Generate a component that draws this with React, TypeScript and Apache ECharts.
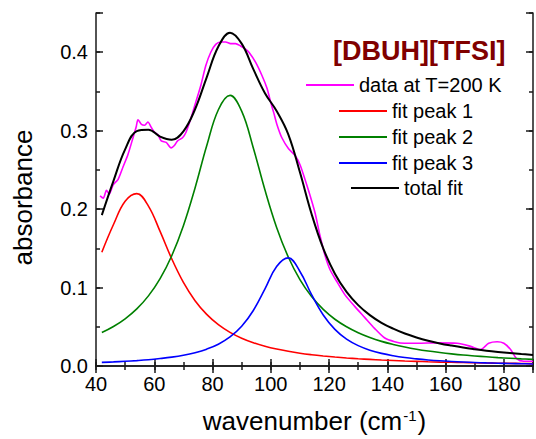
import { useEffect, useRef } from "react";
import * as echarts from "echarts";

// Measured spectrum (wavenumber in cm^-1, absorbance)
const dataWavenumber = [
  41.4, 42.5, 43.6, 44.5, 45.9, 47.6, 49.3, 51.0, 52.7, 53.8, 54.4, 55.6, 56.7, 57.8, 59.0, 60.1, 61.2, 62.4,
  64.1, 65.8, 66.9, 68.0, 69.7, 70.9, 72.6, 74.3, 76.0, 77.7, 79.4, 81.1, 82.8, 84.5, 86.2, 87.9, 89.6, 91.3,
  92.5, 94.8, 97.0, 98.7, 99.9, 101.0, 102.1, 103.8, 106.1, 108.4, 110.1, 111.8, 113.5, 115.2, 116.9, 118.6,
  120.3, 122.6, 125.4, 128.8, 132.2, 135.6, 139.0, 142.5, 145.9, 150.4, 157.2, 164.0, 168.6, 172.0, 174.8,
  177.7, 180.0, 182.3, 184.5, 186.8, 190.0,
];
const dataAbsorbance = [
  0.217, 0.214, 0.224, 0.219, 0.231, 0.238, 0.254, 0.27, 0.291, 0.305, 0.314, 0.308, 0.307, 0.311, 0.304, 0.298,
  0.295, 0.287, 0.285, 0.278, 0.281, 0.287, 0.291, 0.298, 0.316, 0.337, 0.358, 0.383, 0.4, 0.41, 0.413, 0.413,
  0.411, 0.411, 0.408, 0.404, 0.4, 0.387, 0.37, 0.354, 0.337, 0.323, 0.308, 0.291, 0.277, 0.268, 0.256, 0.237,
  0.217, 0.195, 0.166, 0.141, 0.123, 0.108, 0.091, 0.076, 0.062, 0.048, 0.036, 0.031, 0.029, 0.029, 0.0295,
  0.029, 0.025, 0.021, 0.029, 0.031, 0.029, 0.021, 0.009, 0.006, 0.006,
];

// Fitted components, sampled on a common wavenumber grid
const fitWavenumber = [
  42, 46, 50, 54, 58, 62, 66, 70, 74, 78, 82, 86, 90, 94, 98, 102, 106, 110, 114, 118, 122, 126, 130, 134, 138,
  142, 146, 150, 154, 158, 162, 166, 170, 174, 178, 182, 186, 190,
];
const fitPeak1 = [
  0.1451, 0.1804, 0.21, 0.2198, 0.2039, 0.1716, 0.1366, 0.1066, 0.0833, 0.0658, 0.0527, 0.0429, 0.0355, 0.0297,
  0.0252, 0.0216, 0.0187, 0.0163, 0.0144, 0.0128, 0.0114, 0.0102, 0.0092, 0.0084, 0.0076, 0.007, 0.0064, 0.0059,
  0.0054, 0.005, 0.0047, 0.0044, 0.0041, 0.0038, 0.0036, 0.0034, 0.0032, 0.003,
];
const fitPeak2 = [
  0.0427, 0.0504, 0.0602, 0.0728, 0.0894, 0.1114, 0.1406, 0.1789, 0.227, 0.2807, 0.3267, 0.345, 0.3249, 0.278,
  0.2243, 0.1767, 0.1389, 0.1101, 0.0885, 0.0721, 0.0596, 0.05, 0.0424, 0.0363, 0.0314, 0.0275, 0.0242, 0.0214,
  0.0191, 0.0172, 0.0155, 0.014, 0.0128, 0.0117, 0.0107, 0.0099, 0.0091, 0.0085,
];
const fitPeak3 = [
  0.0046, 0.0052, 0.006, 0.0069, 0.008, 0.0095, 0.0113, 0.0137, 0.017, 0.0215, 0.0278, 0.037, 0.0506, 0.0708,
  0.0983, 0.1268, 0.1378, 0.1205, 0.0909, 0.065, 0.0467, 0.0343, 0.026, 0.0202, 0.0161, 0.0131, 0.0108, 0.0091,
  0.0077, 0.0066, 0.0058, 0.0051, 0.0045, 0.004, 0.0036, 0.0032, 0.0029, 0.0026,
];
const fitTotal = [
  0.1924, 0.236, 0.2762, 0.2995, 0.3013, 0.2925, 0.2885, 0.2992, 0.3273, 0.368, 0.4072, 0.4249, 0.411, 0.3785,
  0.3478, 0.3251, 0.2954, 0.2469, 0.1938, 0.1499, 0.1177, 0.0945, 0.0776, 0.0649, 0.0551, 0.0476, 0.0414, 0.0364,
  0.0322, 0.0288, 0.026, 0.0235, 0.0214, 0.0195, 0.0179, 0.0165, 0.0152, 0.0141,
];

const seriesNames = ["data at T=200 K", "fit peak 1", "fit peak 2", "fit peak 3", "total fit"];
const sampleName = "[DBUH][TFSI]";

const FONT = "'Liberation Sans', Arial, Helvetica, sans-serif";
const AXIS_COLOR = "#1a1a1a";

const zip = (xs: number[], ys: number[]) => xs.map((x, i) => [x, ys[i]]);

export default function App() {
  const ref = useRef<HTMLDivElement>(null);

  useEffect(() => {
    if (!ref.current) return;
    const chart = echarts.init(ref.current, null, { renderer: "svg" });

    const lineStyle = { color: AXIS_COLOR, width: 1.5 };
    const hiddenLabel = { show: false };
    const noSplit = { show: false };

    const xBase = { type: "value" as const, min: 40, max: 190, splitLine: noSplit };
    const yBase = { type: "value" as const, min: 0, max: 0.45, splitLine: noSplit };

    const xAxis = [
      {
        ...xBase,
        position: "bottom",
        interval: 10,
        axisLine: { show: true, lineStyle },
        axisTick: { inside: true, length: 4, lineStyle },
        axisLabel: {
          margin: 8,
          fontSize: 20,
          fontFamily: FONT,
          color: "#000",
          formatter: (v: number) => (Math.round(v) % 20 === 0 ? String(Math.round(v)) : ""),
        },
        name: "wavenumber (cm{sup|-1})",
        nameLocation: "middle",
        nameGap: 42,
        nameTextStyle: {
          fontSize: 26,
          fontFamily: FONT,
          color: "#000",
          rich: {
            sup: { fontSize: 15, fontFamily: FONT, color: "#000", verticalAlign: "top", padding: [0, 1, 0, 1] },
          },
        },
      },
      {
        ...xBase,
        position: "bottom",
        interval: 20,
        axisLine: { show: false },
        axisTick: { inside: true, length: 7, lineStyle },
        axisLabel: hiddenLabel,
      },
      {
        ...xBase,
        position: "top",
        interval: 10,
        axisLine: { show: true, lineStyle },
        axisTick: { inside: true, length: 4, lineStyle },
        axisLabel: hiddenLabel,
      },
      {
        ...xBase,
        position: "top",
        interval: 20,
        axisLine: { show: false },
        axisTick: { inside: true, length: 7, lineStyle },
        axisLabel: hiddenLabel,
      },
    ];

    const yAxis = [
      {
        ...yBase,
        position: "left",
        interval: 0.05,
        axisLine: { show: true, lineStyle },
        axisTick: { inside: true, length: 4, lineStyle },
        axisLabel: {
          margin: 8,
          fontSize: 20,
          fontFamily: FONT,
          color: "#000",
          formatter: (v: number) => {
            const k = Math.round(v * 20);
            return k % 2 === 0 && v < 0.41 ? v.toFixed(1) : "";
          },
        },
        name: "absorbance",
        nameLocation: "middle",
        nameGap: 60,
        nameTextStyle: { fontSize: 26, fontFamily: FONT, color: "#000", padding: [0, 16, 0, 0] },
      },
      {
        ...yBase,
        position: "left",
        interval: 0.1,
        axisLine: { show: false },
        axisTick: { inside: true, length: 7, lineStyle },
        axisLabel: hiddenLabel,
      },
      {
        ...yBase,
        position: "right",
        interval: 0.05,
        axisLine: { show: true, lineStyle },
        axisTick: { inside: true, length: 4, lineStyle },
        axisLabel: hiddenLabel,
      },
      {
        ...yBase,
        position: "right",
        interval: 0.1,
        axisLine: { show: false },
        axisTick: { inside: true, length: 7, lineStyle },
        axisLabel: hiddenLabel,
      },
    ];

    const colors = ["#ff00ff", "#ff0000", "#008000", "#0000ff", "#000000"];
    const widths = [1.6, 1.6, 1.6, 1.6, 2];
    const seriesData = [
      zip(dataWavenumber, dataAbsorbance),
      zip(fitWavenumber, fitPeak1),
      zip(fitWavenumber, fitPeak2),
      zip(fitWavenumber, fitPeak3),
      zip(fitWavenumber, fitTotal),
    ];

    const series = seriesNames.map((name, i) => ({
      name,
      type: "line",
      xAxisIndex: 0,
      yAxisIndex: 0,
      data: seriesData[i],
      showSymbol: false,
      symbol: "none",
      smooth: i === 0 ? 0.25 : 0.4,
      color: colors[i],
      lineStyle: { color: colors[i], width: widths[i] },
      z: 2 + i,
    }));

    // One legend per entry so each row can be centred like a classic plot key
    const legendLeft = [306, 339, 339, 339, 351];
    const legendTop = [75, 101, 127, 153, 178];
    const legend = seriesNames.map((name, i) => ({
      data: [name],
      left: legendLeft[i],
      top: legendTop[i],
      padding: 0,
      itemWidth: 48,
      itemHeight: 2,
      icon: "rect",
      selectedMode: false,
      textStyle: { fontSize: 20, fontFamily: FONT, color: "#000", lineHeight: 20 },
    }));

    chart.setOption({
      animation: false,
      backgroundColor: "#fff",
      title: {
        text: sampleName,
        left: 333,
        top: 37,
        padding: 0,
        textStyle: { fontSize: 27, fontWeight: "bold", color: "#800000", fontFamily: FONT },
      },
      legend,
      grid: { left: 96, right: -1, top: 13, bottom: 66 },
      xAxis,
      yAxis,
      series,
    });

    return () => chart.dispose();
  }, []);

  return (
    <div
      ref={ref}
      style={{ position: "fixed", left: 0, top: 0, width: 536, height: 439, background: "#fff" }}
    />
  );
}
